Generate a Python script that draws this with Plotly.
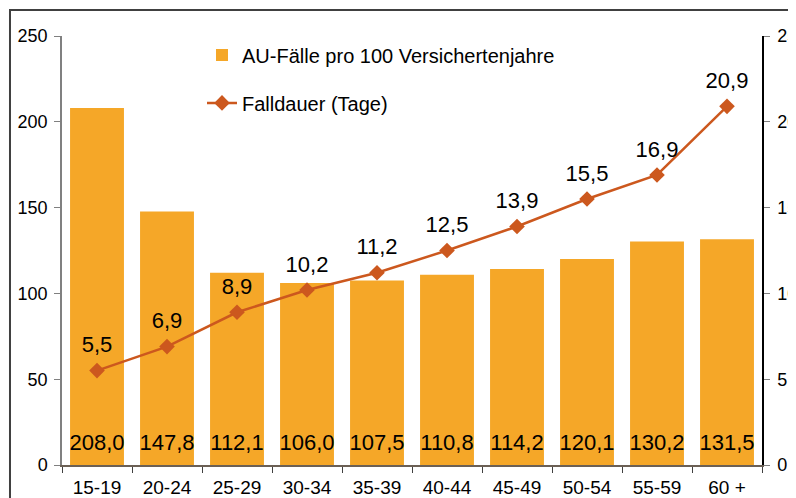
import plotly.graph_objects as go

categories = ["15-19", "20-24", "25-29", "30-34", "35-39", "40-44", "45-49", "50-54", "55-59", "60 +"]
au_faelle = [208.0, 147.8, 112.1, 106.0, 107.5, 110.8, 114.2, 120.1, 130.2, 131.5]
falldauer = [5.5, 6.9, 8.9, 10.2, 11.2, 12.5, 13.9, 15.5, 16.9, 20.9]
left_ticks = [0, 50, 100, 150, 200, 250]
right_ticks = [0, 5, 10, 15, 20, 25]

BAR = "#F5A728"
LINE = "#CC581E"
FONT = "Liberation Sans, Arial, sans-serif"

def fmt(v):
    return f"{v:.1f}".replace(".", ",")

fig = go.Figure()
fig.add_trace(go.Bar(
    x=categories, y=au_faelle, name="AU-Fälle pro 100 Versichertenjahre",
    marker=dict(color=BAR, line=dict(width=0)), legend="legend",
))
# bar value labels at the bottom of each bar
fig.add_trace(go.Scatter(
    x=categories, y=[0] * len(categories), mode="markers+text",
    marker=dict(size=13, opacity=0),
    text=[fmt(v) for v in au_faelle],
    textposition="top center", textfont=dict(size=22, color="black", family=FONT),
    showlegend=False, hoverinfo="skip", cliponaxis=False,
))
fig.add_trace(go.Scatter(
    x=categories, y=falldauer, name="Falldauer (Tage)", yaxis="y2",
    mode="lines+markers",
    line=dict(color=LINE, width=2.5),
    marker=dict(symbol="diamond", size=12, color=LINE),
    legend="legend2", cliponaxis=False,
))
# line value labels
fig.add_trace(go.Scatter(
    x=categories, y=falldauer, yaxis="y2", mode="markers+text",
    marker=dict(size=19, opacity=0),
    text=[fmt(v) for v in falldauer],
    textposition="top center", textfont=dict(size=22, color="black", family=FONT),
    showlegend=False, hoverinfo="skip", cliponaxis=False,
))

fig.update_layout(
    width=796, height=498,
    margin=dict(l=54, r=42, t=28, b=41),
    paper_bgcolor="white", plot_bgcolor="white",
    font=dict(family=FONT, size=18, color="black"),
    separators=",.",
    bargap=0.23,
    xaxis=dict(
        type="category", range=[-0.5, len(categories) - 0.5],
        showgrid=False, showline=True, linecolor="#6b6055", linewidth=2,
        ticks="outside", tickson="boundaries", ticklen=6, tickcolor="#404040",
        tickfont=dict(size=19), ticklabelstandoff=4, automargin=False,
    ),
    yaxis=dict(
        range=[0, 250], tickvals=left_ticks, showgrid=False, zeroline=False,
        showline=True, linecolor="#808080", linewidth=1.5,
        ticks="outside", ticklen=6, tickcolor="#808080",
        tickfont=dict(size=18), ticklabelstandoff=3, automargin=False,
    ),
    yaxis2=dict(
        range=[0, 25], tickvals=right_ticks, overlaying="y", side="right",
        showgrid=False, zeroline=False, showline=True, linecolor="black", linewidth=1.5,
        ticks="outside", ticklen=6, tickcolor="#808080",
        tickfont=dict(size=18), ticklabelstandoff=4, automargin=False,
    ),
    legend=dict(x=0.2, y=0.956, xanchor="left", yanchor="middle",
                bgcolor="rgba(0,0,0,0)", font=dict(size=20)),
    legend2=dict(x=0.2, y=0.844, xanchor="left", yanchor="middle",
                 bgcolor="rgba(0,0,0,0)", font=dict(size=20)),
    shapes=[dict(type="rect", xref="paper", yref="paper",
                 x0=-0.0743, x1=1.3, y0=-0.3, y1=1.0606,
                 line=dict(color="#404040", width=2), layer="below")],
)

fig.write_html("out.html")
